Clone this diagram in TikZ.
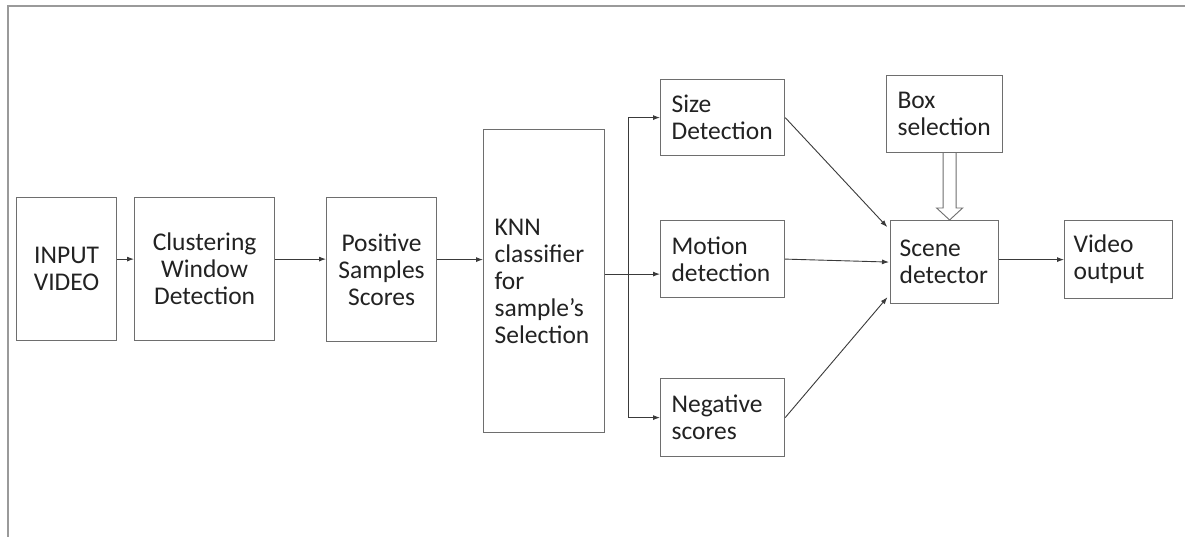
\documentclass[tikz,border=0pt]{standalone}
\usepackage{fontspec}
\setmainfont{Carlito}
\usetikzlibrary{arrows.meta,calc}
\definecolor{boxgray}{HTML}{6E6E6E}
\definecolor{txt}{HTML}{222222}
\definecolor{lin}{HTML}{3A3A3A}
\definecolor{framegray}{HTML}{9A9A9A}
\begin{document}
\begin{tikzpicture}[x=1pt,y=-1pt,
  blk/.style={draw=boxgray,line width=1.2pt,inner ysep=0pt,anchor=north west,
    font=\fontsize{25.5}{27}\selectfont,text=txt},
  arr/.style={draw=lin,line width=0.9pt,-{Latex[length=7pt,width=5pt]}},
  plain/.style={draw=lin,line width=0.9pt}]
\useasboundingbox (0,0) rectangle (1185,537);
\fill[white] (0,0) rectangle (1185,537);
\draw[framegray,line width=1.4pt] (8,537) -- (8,6) -- (1185,6);

\node[blk,minimum height=143pt,text width=90pt,inner xsep=5pt,align=center] (inp) at (16,197) {INPUT\\VIDEO};
\node[blk,minimum height=143pt,text width=130pt,inner xsep=5pt,align=center] (clu) at (134,197) {Clustering\\Window\\Detection};
\node[blk,minimum height=144pt,text width=100pt,inner xsep=5pt,align=center] (pos) at (326,197) {Positive\\Samples\\Scores};
\node[blk,minimum height=303pt,text width=99pt,inner xsep=11pt,align=left] (knn) at (483,129) {KNN\\classifier\\for\\sample’s\\Selection};
\node[blk,minimum height=76pt,text width=102pt,inner xsep=11pt,align=left] (siz) at (660,79) {Size\\Detection};
\node[blk,minimum height=77pt,text width=102pt,inner xsep=11pt,align=left] (mot) at (660,220) {Motion\\detection};
\node[blk,minimum height=78pt,text width=102pt,inner xsep=11pt,align=left] (neg) at (660,378) {Negative\\scores};
\node[blk,minimum height=77pt,text width=94pt,inner xsep=11pt,align=left] (bsel) at (886,75) {Box\\selection};
\node[blk,minimum height=83pt,text width=90pt,inner xsep=9pt,align=left] (scn) at (890,220) {Scene\\detector};
\node[blk,minimum height=78pt,text width=90pt,inner xsep=9pt,align=left] (vid) at (1064,220) {Video\\output};

% main chain
\coordinate (a1) at ([yshift=10pt]inp.east);
\draw[arr] (a1) -- (a1 -| clu.west);
\coordinate (a2) at ([yshift=10pt]clu.east);
\draw[arr] (a2) -- (a2 -| pos.west);
\coordinate (a3) at ([yshift=10pt]pos.east);
\draw[arr] (a3) -- (a3 -| knn.west);

% branch from KNN
\coordinate (k) at ([yshift=7pt]knn.east);
\draw[arr] (k) -- (k -| mot.west);
\coordinate (bx) at (628,0);
\draw[plain] (siz.west -| bx) -- (neg.west -| bx);
\draw[arr] (siz.west -| bx) -- (siz.west);
\draw[arr] (neg.west -| bx) -- (neg.west);

% into scene detector
\draw[arr,shorten >=4pt] (siz.east) -- ([yshift=-10pt]scn.north west);
\draw[arr,shorten >=1pt] (mot.east) -- (scn.west);
\draw[arr,shorten >=4pt] (neg.east) -- ([yshift=10pt]scn.south west);
\draw[arr] (scn.east |- vid.west) -- (vid.west);

% hollow arrow from box selection
\coordinate (hs) at ([xshift=5pt]bsel.south);
\coordinate (ht) at (hs |- scn.north);
\draw[boxgray,line width=0.9pt,fill=white,line join=miter]
  ($(hs)+(-6.5,0)$) -- ($(ht)+(-6.5,-12)$) -- ($(ht)+(-13,-12)$) -- (ht)
  -- ($(ht)+(13,-12)$) -- ($(ht)+(6.5,-12)$) -- ($(hs)+(6.5,0)$);
\end{tikzpicture}
\end{document}
